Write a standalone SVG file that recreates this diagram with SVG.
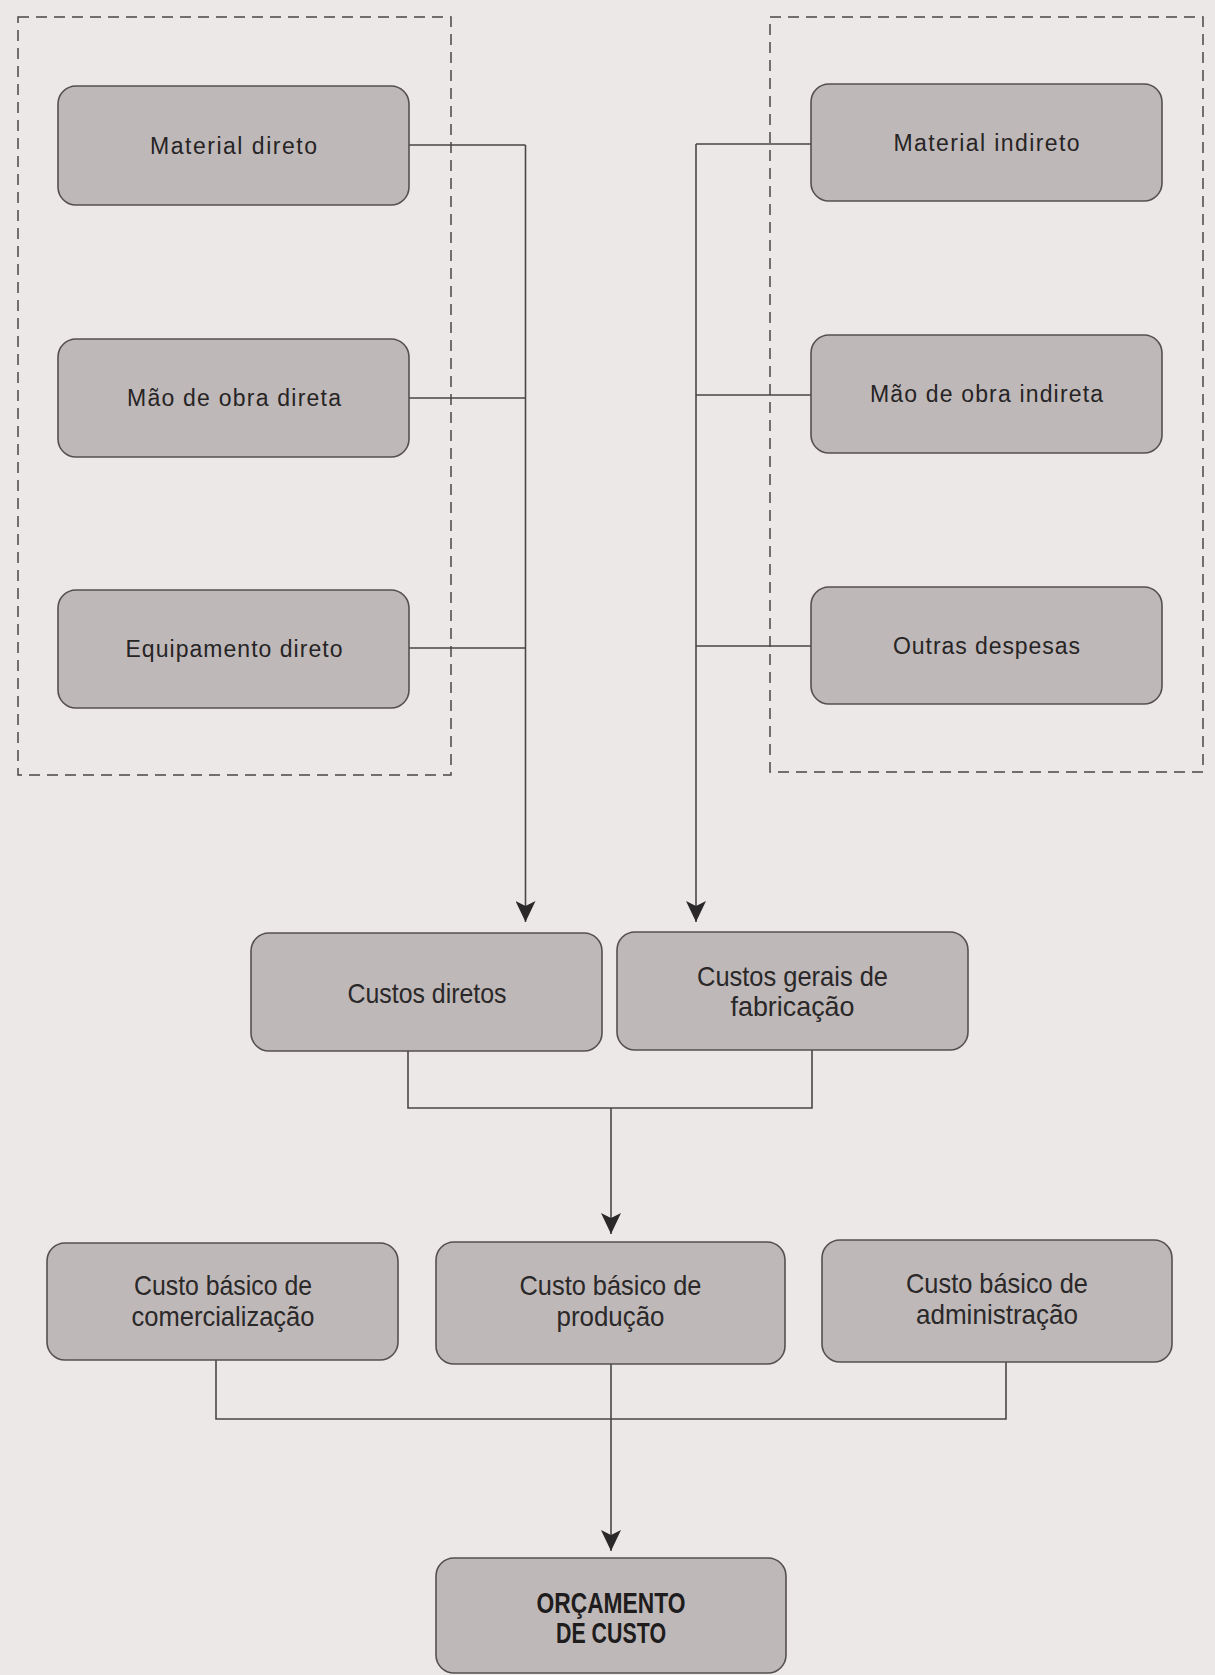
<svg xmlns="http://www.w3.org/2000/svg" width="1215" height="1675" viewBox="0 0 1215 1675">
  <style>
    .node rect { fill: #bfb8b9; stroke: #555050; stroke-width: 1.6; }
    .t { font-family: "Liberation Sans", Arial, sans-serif; font-size: 23px; fill: #262424; text-anchor: middle; }
    .c { font-family: "Liberation Sans", Arial, sans-serif; font-size: 28px; fill: #2a2828; text-anchor: middle; }
    .b { font-family: "Liberation Sans", Arial, sans-serif; font-size: 29px; font-weight: bold; fill: #1e1c1c; text-anchor: middle; }
    .dash { fill: none; stroke: #4a4646; stroke-width: 1.5; stroke-dasharray: 11 7; }
    .conn path { fill: none; stroke: #4a4646; stroke-width: 1.6; }
  </style>
  <defs>
    <marker id="arrow" viewBox="0 0 21 20" refX="21" refY="10" markerWidth="21" markerHeight="20" markerUnits="userSpaceOnUse" orient="auto">
      <path d="M0,0 L21,10 L0,20 L5,10 Z" fill="#2a2828"/>
    </marker>
  </defs>
  <rect x="0" y="0" width="1215" height="1675" fill="#ece8e8"/>

  <g id="groups">
    <rect id="grupo-diretos" class="dash" x="18" y="17" width="433" height="758"/>
    <rect id="grupo-indiretos" class="dash" x="770" y="17" width="433" height="755"/>
  </g>

  <g id="connectors" class="conn">
    <path d="M409,145 H525.5 M409,398 H525.5 M409,648 H525.5 M525.5,145 V922" marker-end="url(#arrow)"/>
    <path d="M811,144 H696 M811,395 H696 M811,646 H696 M696,144 V922" marker-end="url(#arrow)"/>
    <path d="M408,1051 V1108 H812 V1050"/>
    <path d="M611,1108 V1234" marker-end="url(#arrow)"/>
    <path d="M216,1360 V1419 H1006 V1362"/>
    <path d="M611,1364 V1551" marker-end="url(#arrow)"/>
  </g>

  <g id="material-direto" class="node">
    <rect x="58" y="86" width="351" height="119" rx="18"/>
    <text class="t" x="233.5" y="153.5" textLength="167" lengthAdjust="spacing">Material direto</text>
  </g>
  <g id="mao-de-obra-direta" class="node">
    <rect x="58" y="339" width="351" height="118" rx="18"/>
    <text class="t" x="234" y="406" textLength="214" lengthAdjust="spacing">Mão de obra direta</text>
  </g>
  <g id="equipamento-direto" class="node">
    <rect x="58" y="590" width="351" height="118" rx="18"/>
    <text class="t" x="234" y="657" textLength="217" lengthAdjust="spacing">Equipamento direto</text>
  </g>

  <g id="material-indireto" class="node">
    <rect x="811" y="84" width="351" height="117" rx="18"/>
    <text class="t" x="986.5" y="151" textLength="186" lengthAdjust="spacing">Material indireto</text>
  </g>
  <g id="mao-de-obra-indireta" class="node">
    <rect x="811" y="335" width="351" height="118" rx="18"/>
    <text class="t" x="986.5" y="402" textLength="233" lengthAdjust="spacing">Mão de obra indireta</text>
  </g>
  <g id="outras-despesas" class="node">
    <rect x="811" y="587" width="351" height="117" rx="18"/>
    <text class="t" x="986.5" y="654" textLength="187" lengthAdjust="spacing">Outras despesas</text>
  </g>

  <g id="custos-diretos" class="node">
    <rect x="251" y="933" width="351" height="118" rx="18"/>
    <text class="c" x="427" y="1003" textLength="159" lengthAdjust="spacingAndGlyphs">Custos diretos</text>
  </g>
  <g id="custos-gerais" class="node">
    <rect x="617" y="932" width="351" height="118" rx="18"/>
    <text class="c" x="792.5" y="986" textLength="191" lengthAdjust="spacingAndGlyphs">Custos gerais de</text>
    <text class="c" x="792.5" y="1016" textLength="124" lengthAdjust="spacingAndGlyphs">fabricação</text>
  </g>

  <g id="custo-comercializacao" class="node">
    <rect x="47" y="1243" width="351" height="117" rx="18"/>
    <text class="c" x="223" y="1295" textLength="178" lengthAdjust="spacingAndGlyphs">Custo básico de</text>
    <text class="c" x="223" y="1326" textLength="183" lengthAdjust="spacingAndGlyphs">comercialização</text>
  </g>
  <g id="custo-producao" class="node">
    <rect x="436" y="1242" width="349" height="122" rx="18"/>
    <text class="c" x="610.5" y="1295" textLength="182" lengthAdjust="spacingAndGlyphs">Custo básico de</text>
    <text class="c" x="610.5" y="1326" textLength="108" lengthAdjust="spacingAndGlyphs">produção</text>
  </g>
  <g id="custo-administracao" class="node">
    <rect x="822" y="1240" width="350" height="122" rx="18"/>
    <text class="c" x="997" y="1293" textLength="182" lengthAdjust="spacingAndGlyphs">Custo básico de</text>
    <text class="c" x="997" y="1324" textLength="162" lengthAdjust="spacingAndGlyphs">administração</text>
  </g>

  <g id="orcamento-de-custo" class="node">
    <rect x="436" y="1558" width="350" height="115" rx="18"/>
    <text class="b" x="611" y="1613" textLength="149" lengthAdjust="spacingAndGlyphs">ORÇAMENTO</text>
    <text class="b" x="611" y="1643" textLength="110" lengthAdjust="spacingAndGlyphs">DE CUSTO</text>
  </g>
</svg>
